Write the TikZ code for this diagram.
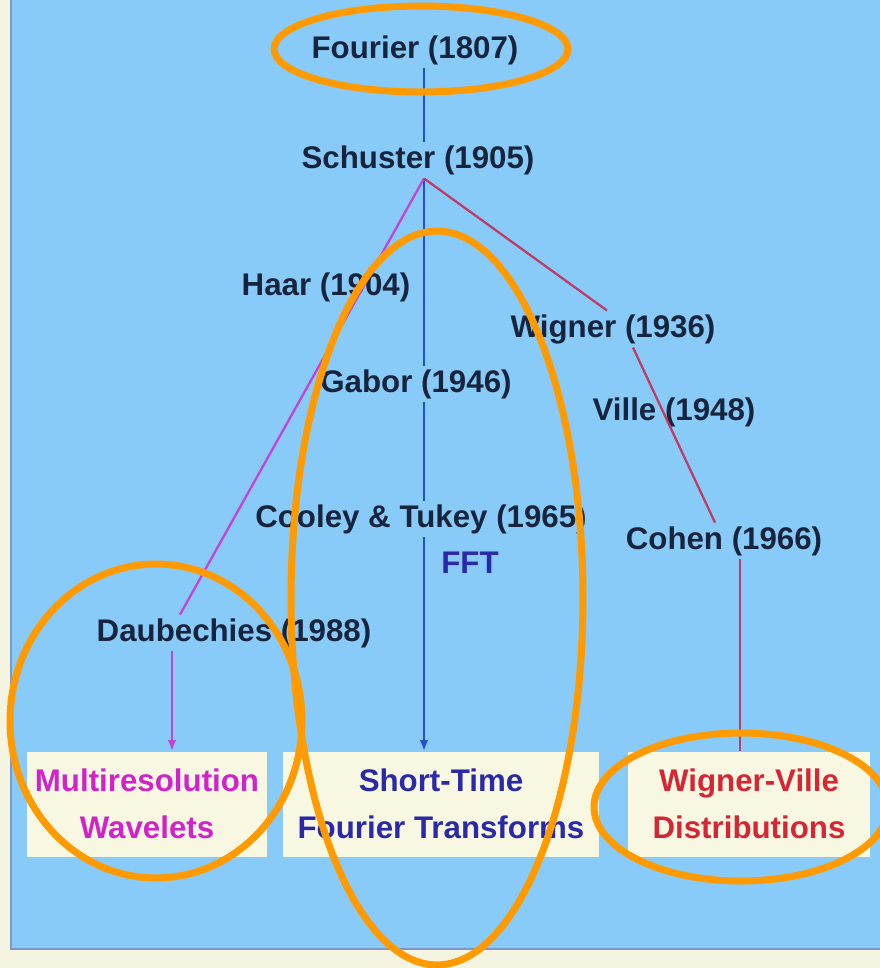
\documentclass[tikz,border=0pt]{standalone}
\usepackage{fontspec}
\setmainfont{Liberation Sans}
\usetikzlibrary{arrows.meta,calc}

\definecolor{cream}{HTML}{F5F4E0}
\definecolor{panelblue}{HTML}{89CBF8}
\definecolor{paneledge}{HTML}{7D98C8}
\definecolor{inkdark}{HTML}{16243E}
\definecolor{trunkblue}{HTML}{2150D0}
\definecolor{wavemag}{HTML}{C044D8}
\definecolor{wvred}{HTML}{BE3C66}
\definecolor{hiorange}{HTML}{FF9A00}
\definecolor{boxfill}{HTML}{F8F7E2}
\definecolor{magtext}{HTML}{D024C8}
\definecolor{bluetext}{HTML}{2A2AA8}
\definecolor{redtext}{HTML}{D42634}

\begin{document}
\begin{tikzpicture}[
  x=0.02cm, y=-0.02cm,
  every node/.style={font=\fontsize{17.8}{21}\selectfont\bfseries,text=inkdark,inner sep=2pt},
  result/.style={fill=boxfill,inner sep=0pt,minimum height=2.1cm,align=center,
    font=\fontsize{17.8}{26.6}\selectfont\bfseries},
  trunk/.style={draw=trunkblue,line width=1.6pt},
  wavebranch/.style={draw=wavemag,line width=1.3pt},
  wvbranch/.style={draw=wvred,line width=1.3pt},
  tip/.style={-{Latex[length=2.2mm,width=1.7mm]}},
  highlight/.style={draw=hiorange,line width=4pt}
]
\useasboundingbox (0,0) rectangle (880,968);
\fill[cream] (0,0) rectangle (880,968);
\fill[panelblue] (10,0) rectangle (880,950);
\draw[paneledge,line width=1.5pt] (11,0) -- (11,949) -- (880,949);

\coordinate (trunk) at (424,0);
\coordinate (wavx) at (172,0);
\coordinate (cohx) at (740,0);

\node (fourier) at (415,50) {Fourier (1807)};
\node (schuster) at (418,160) {Schuster (1905)};
\node (haar) at (326,287) {Haar (1904)};
\node (wigner) at (613,329) {Wigner (1936)};
\node (gabor) at (416,384) {Gabor (1946)};
\node (ville) at (674,412) {Ville (1948)};
\node (cooley) at (421,519) {Cooley \& Tukey (1965)};
\node[text=bluetext] (fft) at (470,563) {FFT};
\node (cohen) at (724,541) {Cohen (1966)};
\node (daub) at (234,633) {Daubechies (1988)};

\node[result,minimum width=4.8cm,text=magtext] (wavelets) at (147,804) {Multiresolution\\Wavelets};
\node[result,minimum width=6.34cm,text=bluetext] (stft) at (441,804) {Short-Time\\Fourier Transforms};
\node[result,minimum width=4.84cm,text=redtext] (wvd) at (749,804) {Wigner-Ville\\Distributions};

\draw[trunk] (fourier.south -| trunk) -- (schuster.north -| trunk);
\draw[trunk] (schuster.south -| trunk) -- (gabor.north -| trunk);
\draw[trunk] (gabor.south -| trunk) -- (cooley.north -| trunk);
\draw[trunk,tip] (cooley.south -| trunk) -- (stft.north -| trunk);

\draw[wavebranch] (schuster.south -| trunk) -- ($(daub.north)+(-54,0)$);
\draw[wavebranch,tip] (daub.south -| wavx) -- (wavelets.north -| wavx);

\draw[wvbranch] (schuster.south -| trunk) -- ($(wigner.north)+(-6,0)$);
\draw[wvbranch] ($(wigner.south)+(20,0)$) -- ($(cohen.north)+(-9,0)$);
\draw[wvbranch] (cohen.south -| cohx) -- (wvd.north -| cohx);

\draw[highlight] (421,49) ellipse [x radius=2.94cm,y radius=0.86cm];
\draw[highlight] (437,598) ellipse [x radius=2.92cm,y radius=7.34cm];
\draw[highlight] (156,721) ellipse [x radius=2.92cm,y radius=3.14cm];
\draw[highlight] (741,807) ellipse [x radius=2.94cm,y radius=1.48cm];
\end{tikzpicture}
\end{document}
